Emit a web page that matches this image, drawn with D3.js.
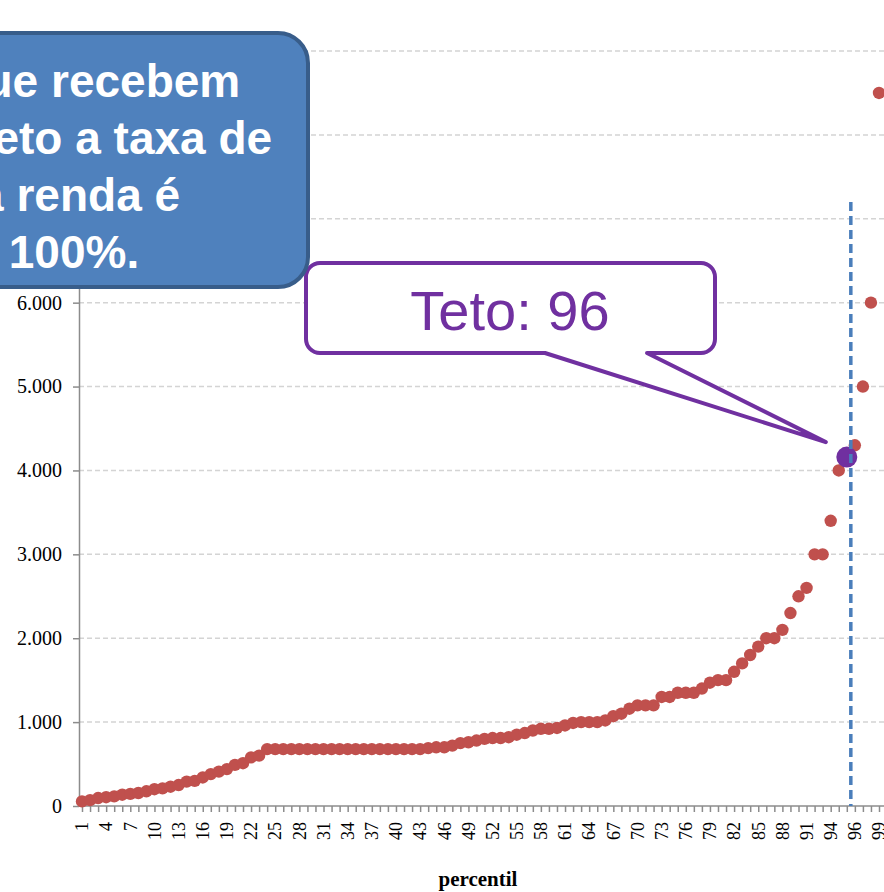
<!DOCTYPE html>
<html>
<head>
<meta charset="utf-8">
<script src="https://cdn.jsdelivr.net/npm/d3@7"></script>
<style>
  html, body { margin: 0; padding: 0; background: #fff; }
  svg { display: block; }
</style>
</head>
<body>
<svg id="chart" width="884" height="892"></svg>
<script>
// percentis (a categoria "teto" foi inserida entre 95 e 96)
let categorias = [
	"1","2","3","4","5","6","7","8","9","10","11","12","13","14","15","16","17","18","19","20",
	"21","22","23","24","25","26","27","28","29","30","31","32","33","34","35","36","37","38","39","40",
	"41","42","43","44","45","46","47","48","49","50","51","52","53","54","55","56","57","58","59","60",
	"61","62","63","64","65","66","67","68","69","70","71","72","73","74","75","76","77","78","79","80",
	"81","82","83","84","85","86","87","88","89","90","91","92","93","94","95","teto","96","97","98","99"
];

// renda por percentil (R$)
let renda = [
	55, 70, 95, 105, 115, 135, 145, 155, 175, 200,
	210, 230, 250, 290, 300, 340, 380, 410, 440, 490,
	510, 580, 600, 678, 678, 678, 678, 678, 678, 678,
	678, 678, 678, 678, 678, 678, 678, 678, 678, 678,
	678, 678, 678, 690, 700, 700, 720, 750, 760, 780,
	800, 810, 810, 820, 850, 870, 900, 920, 920, 930,
	960, 990, 1000, 1000, 1000, 1020, 1070, 1100, 1160, 1200,
	1200, 1200, 1300, 1300, 1350, 1350, 1350, 1400, 1470, 1500,
	1500, 1600, 1700, 1800, 1900, 2000, 2000, 2100, 2300, 2500,
	2600, 3000, 3000, 3400, 4000, null, 4300, 5000, 6000, 8500
];

let teto = {categoria: "teto", valor: 4159, rotulo: "Teto: 96"};

let yTicks = [0, 1000, 2000, 3000, 4000, 5000, 6000, 7000, 8000, 9000];
let xLabelStep = 3;

let caixaTexto = [
	"Para aqueles que recebem",
	"renda acima do teto a taxa de",
	"reposição da renda é",
	"menor que 100%."
];

let svg = d3.select("#chart");

let x = d3.scalePoint()
	.domain(categorias)
	.range([82, 879]);

let y = d3.scaleLinear()
	.domain([0, 9000])
	.range([806, 51]);

let fmt = d3.formatLocale({decimal: ",", thousands: ".", grouping: [3], currency: ["R$", ""]}).format(",d");

// grade
svg.append("g")
	.selectAll("line")
	.data(yTicks.filter((d) => d > 0))
	.enter().append("line")
	.attr("x1", 79)
	.attr("x2", 884)
	.attr("y1", (d) => y(d))
	.attr("y2", (d) => y(d))
	.style("stroke", "#d4d4d4")
	.style("stroke-width", 1.5)
	.style("stroke-dasharray", "5,3");

// eixo y
let yAxis = svg.append("g")
	.attr("transform", "translate(79,0)")
	.call(d3.axisLeft(y).tickValues(yTicks).tickSize(6).tickPadding(11).tickSizeOuter(0).tickFormat(fmt));

// eixo x
let xAxis = svg.append("g")
	.attr("transform", "translate(0," + y(0) + ")")
	.call(d3.axisBottom(x).tickSize(6).tickFormat((d, i) => i % xLabelStep == 0 ? d : ""));
xAxis.select(".domain").attr("d", "M79,0H884");
xAxis.selectAll("text")
	.attr("text-anchor", "end")
	.attr("dx", "-6")
	.attr("dy", "0.32em")
	.attr("x", 0)
	.attr("y", 0)
	.attr("transform", "translate(0,10) rotate(-90)");

svg.selectAll(".domain, .tick line")
	.style("stroke", "#8c8c8c")
	.style("stroke-width", 1.5);
svg.selectAll(".tick text")
	.style("font-family", "'Liberation Serif', 'Times New Roman', serif")
	.style("font-size", "18px")
	.style("fill", "#000");
yAxis.selectAll(".tick text").style("font-size", "20px");

svg.append("text")
	.attr("x", 478)
	.attr("y", 886)
	.attr("text-anchor", "middle")
	.style("font-family", "'Liberation Serif', 'Times New Roman', serif")
	.style("font-weight", "bold")
	.style("font-size", "21px")
	.text("percentil");

// pontos
svg.append("g")
	.selectAll("circle")
	.data(renda.map((v, i) => ({c: categorias[i], v: v})).filter((d) => d.v != null))
	.enter().append("circle")
	.attr("cx", (d) => x(d.c))
	.attr("cy", (d) => y(d.v))
	.attr("r", 6.2)
	.style("fill", "#c0504d");

svg.append("circle")
	.attr("cx", x(teto.categoria))
	.attr("cy", y(teto.valor))
	.attr("r", 10.5)
	.style("fill", "#7030a0");

// linha do teto
let xTeto = (x("teto") + x("96")) / 2;
svg.append("line")
	.attr("x1", xTeto)
	.attr("x2", xTeto)
	.attr("y1", y(7200))
	.attr("y2", y(0))
	.style("stroke", "#4a7ebb")
	.style("stroke-width", 3.5)
	.style("stroke-dasharray", "9,5");

// balão "Teto: 96"
let bx0 = 306, by0 = 263, bx1 = 715, by1 = 353, br = 14;
let tipX = x(teto.categoria) - 21, tipY = y(teto.valor) - 15;
let balao = d3.path();
balao.moveTo(bx0 + br, by0);
balao.lineTo(bx1 - br, by0);
balao.arcTo(bx1, by0, bx1, by0 + br, br);
balao.lineTo(bx1, by1 - br);
balao.arcTo(bx1, by1, bx1 - br, by1, br);
balao.lineTo(647, by1);
balao.lineTo(tipX, tipY);
balao.lineTo(545, by1);
balao.lineTo(bx0 + br, by1);
balao.arcTo(bx0, by1, bx0, by1 - br, br);
balao.lineTo(bx0, by0 + br);
balao.arcTo(bx0, by0, bx0 + br, by0, br);
balao.closePath();

svg.append("path")
	.attr("d", balao.toString())
	.style("fill", "#fff")
	.style("stroke", "#7030a0")
	.style("stroke-width", 4)
	.style("stroke-linejoin", "round");

svg.append("text")
	.attr("x", 510)
	.attr("y", 330)
	.attr("text-anchor", "middle")
	.style("font-family", "'Liberation Sans', Arial, sans-serif")
	.style("font-size", "56px")
	.style("fill", "#7030a0")
	.text(teto.rotulo);

// caixa azul
svg.append("rect")
	.attr("x", -410)
	.attr("y", 33)
	.attr("width", 718)
	.attr("height", 254)
	.attr("rx", 30)
	.style("fill", "#4f81bd")
	.style("stroke", "#385d8a")
	.style("stroke-width", 4);

svg.append("g")
	.selectAll("text")
	.data(caixaTexto)
	.enter().append("text")
	.attr("x", -50)
	.attr("y", (d, i) => 97 + i * 57)
	.attr("text-anchor", "middle")
	.style("font-family", "'Liberation Sans', Arial, sans-serif")
	.style("font-weight", "bold")
	.style("font-size", "46px")
	.style("fill", "#fff")
	.text((d) => d);
</script>
</body>
</html>
